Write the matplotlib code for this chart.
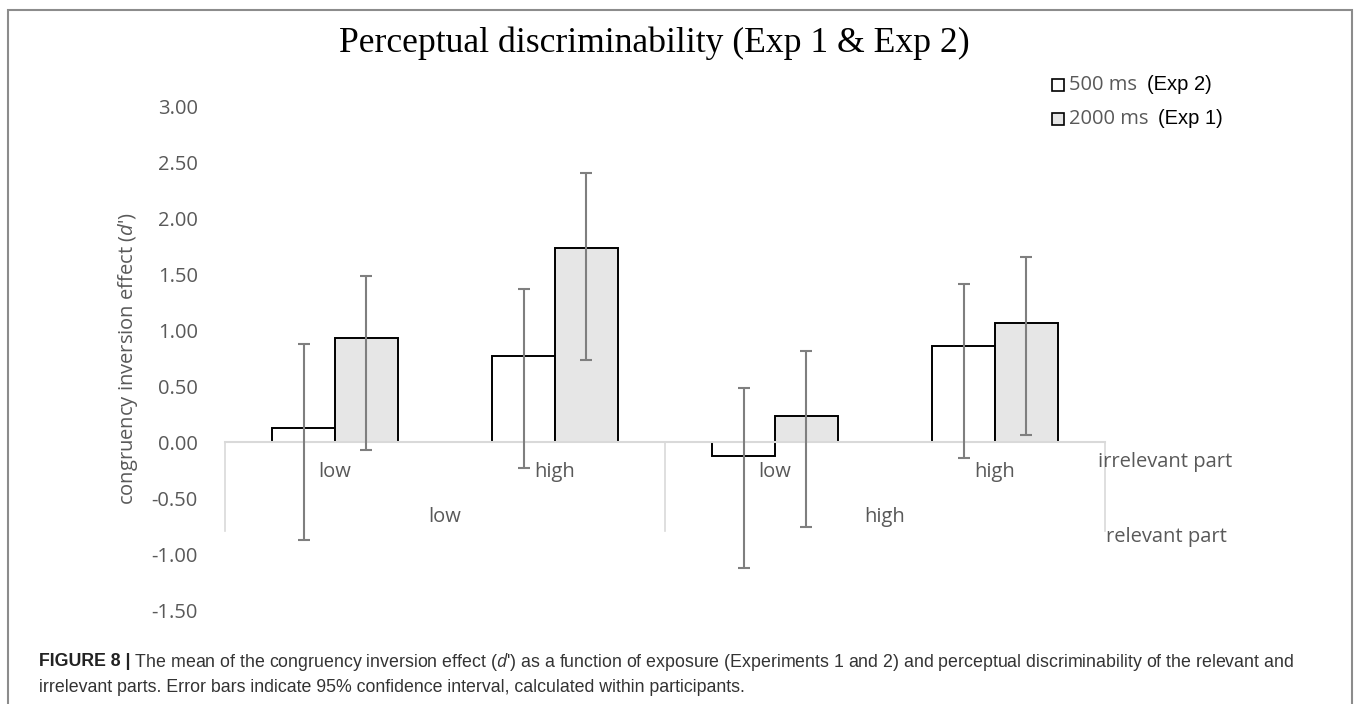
import numpy as np
import matplotlib
matplotlib.use("Agg")
import matplotlib.pyplot as plt
from matplotlib.patches import Rectangle

# data
irrelevant = ["low", "high", "low", "high"]
relevant = ["low", "high"]
ticks = [-1.5, -1.0, -0.5, 0.0, 0.5, 1.0, 1.5, 2.0, 2.5, 3.0]

exp2_500 = [0.13, 0.77, -0.12, 0.86]
exp2_hi = [0.88, 1.37, 0.49, 1.42]
exp2_lo = [-0.87, -0.23, -1.12, -0.14]

exp1_2000 = [0.93, 1.74, 0.24, 1.07]
exp1_hi = [1.49, 2.41, 0.82, 1.66]
exp1_lo = [-0.07, 0.74, -0.76, 0.07]

plt.rcParams['mathtext.fontset'] = 'custom'
plt.rcParams['mathtext.rm'] = 'Open Sans'
plt.rcParams['mathtext.it'] = 'Open Sans:italic'

W, H = 1358, 704
fig = plt.figure(figsize=(W / 100, H / 100), dpi=100)

def fx(px):
    return px / W

def fy(py):
    return 1 - py / H

# axes placed so y=3.00 sits at 107px and y=-1.50 at 610px
ax = fig.add_axes([fx(225), fy(610), fx(1105) - fx(225), fy(107) - fy(610)])
ax.set_xlim(-0.5, 3.5)
ax.set_ylim(-1.5, 3.0)

grey_txt = '#595959'
x = np.arange(len(irrelevant))
w = 0.286

ax.bar(x - w / 2, exp2_500, w, color='white', edgecolor='black', linewidth=1.4, zorder=2)
ax.bar(x + w / 2, exp1_2000, w, color='#e6e6e6', edgecolor='black', linewidth=1.4, zorder=2)

v2 = np.array(exp2_500)
v1 = np.array(exp1_2000)
ax.errorbar(x - w / 2, v2, yerr=[v2 - np.array(exp2_lo), np.array(exp2_hi) - v2],
            fmt='none', ecolor='#7f7f7f', elinewidth=1.5, capsize=4, capthick=1.5, zorder=4)
ax.errorbar(x + w / 2, v1, yerr=[v1 - np.array(exp1_lo), np.array(exp1_hi) - v1],
            fmt='none', ecolor='#7f7f7f', elinewidth=1.5, capsize=4, capthick=1.5, zorder=4)

# zero line and category separators (excel style multi-level axis)
ax.plot([-0.5, 3.5], [0, 0], color='#d9d9d9', lw=1.5, zorder=3, clip_on=False)
for xs in [-0.5, 1.5, 3.5]:
    ax.plot([xs, xs], [0, -0.79], color='#d9d9d9', lw=1.2, zorder=1, clip_on=False)

for i, lab in enumerate(irrelevant):
    ax.text(x[i], -0.262, lab, ha='center', va='center', fontsize=14.5,
            family='Open Sans', color=grey_txt)
for j, lab in enumerate(relevant):
    ax.text(2 * j + 0.5, -0.665, lab, ha='center', va='center', fontsize=14.5,
            family='Open Sans', color=grey_txt)
ax.text(3.468, -0.173, 'irrelevant part', ha='left', va='center', fontsize=14.5,
        family='Open Sans', color=grey_txt)
ax.text(3.503, -0.845, 'relevant part', ha='left', va='center', fontsize=14.5,
        family='Open Sans', color=grey_txt)

ax.set_xticks([])
ax.set_yticks(ticks)
ax.set_yticklabels([f"{t:.2f}" for t in ticks], family='Open Sans', fontsize=14.5, color=grey_txt)
ax.tick_params(axis='y', length=0, pad=19.5)
for s in ax.spines.values():
    s.set_visible(False)

ax.set_ylabel("congruency inversion effect ($d$')", family='Open Sans', fontsize=14.5,
              color=grey_txt)
ax.yaxis.set_label_coords(-0.0966, 0.5)

# title
fig.text(fx(654.5), fy(52), "Perceptual discriminability (Exp 1 & Exp 2)",
         family='Liberation Serif', fontsize=25.7, ha='center', va='baseline', color='black')

# legend drawn by hand (two-colour labels)
rows = [(85, 'white', '500 ms', '(Exp 2)', 1147), (119, '#e6e6e6', '2000 ms', '(Exp 1)', 1158)]
for yc, fc, lab, exp, xe in rows:
    fig.patches.append(Rectangle((fx(1052), fy(yc + 6)), fx(12), 12 / H, facecolor=fc,
                                 edgecolor='black', lw=1.2, transform=fig.transFigure))
    fig.text(fx(1069), fy(yc), lab, family='Open Sans', fontsize=14.5, color=grey_txt,
             ha='left', va='center')
    fig.text(fx(xe), fy(yc), exp, family='Liberation Sans', fontsize=14.5, color='black',
             ha='left', va='center')

# outer frame
fig.patches.append(Rectangle((fx(7.5), fy(712)), fx(1352) - fx(7.5), fy(9.5) - fy(712),
                             facecolor='none', edgecolor='#8c8c8c', lw=1.5,
                             transform=fig.transFigure, clip_on=False))

# caption
cap_rest1 = " The mean of the congruency inversion effect ($d$') as a function of exposure (Experiments 1 and 2) and perceptual discriminability of the relevant and"
cap2 = "irrelevant parts. Error bars indicate 95% confidence interval, calculated within participants."
fs = 12.8
r = fig.canvas.get_renderer()
t1 = fig.text(fx(39), fy(662), "FIGURE 8 |", family='Liberation Sans', fontweight='bold',
              fontsize=fs, color='#222222', ha='left', va='center')
bb = t1.get_window_extent(renderer=r)
fig.text(bb.x1 / W, fy(662), cap_rest1, family='Liberation Sans', fontsize=fs,
         color='#333333', ha='left', va='center')
fig.text(fx(39), fy(688), cap2, family='Liberation Sans', fontsize=fs,
         color='#333333', ha='left', va='center')

fig.savefig("out.png", dpi=100)
